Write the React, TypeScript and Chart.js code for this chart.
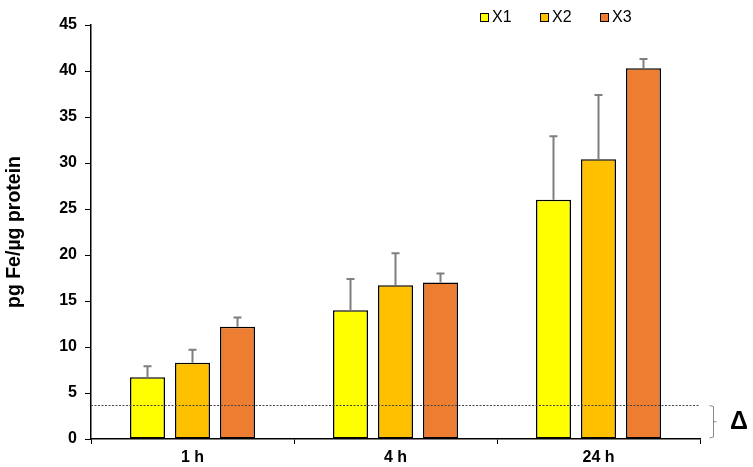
import React, { useEffect, useRef } from "react";
import { Chart, registerables } from "chart.js";

Chart.register(...registerables);

const categories = ["1 h", "4 h", "24 h"];
const seriesLabels = ["X1", "X2", "X3"];
const x1Values = [6.7, 14.0, 26.0];
const x2Values = [8.3, 16.7, 30.4];
const x3Values = [12.2, 17.0, 40.3];
const x1Errors = [1.2, 3.4, 6.9];
const x2Errors = [1.4, 3.5, 7.0];
const x3Errors = [1.0, 1.0, 1.0];
const thresholdValue = 3.75;
const yTicksMax = 45;
const yTicksStep = 5;
const yTitle = "pg Fe/µg protein";
const deltaLabel = "Δ";

const colors = ["#FFFF00", "#FFC000", "#ED7D31"];
const FONT = "'Liberation Sans', Arial, sans-serif";

const errorsBySeries = [x1Errors, x2Errors, x3Errors];

const errorBarPlugin = {
  id: "errorBars",
  afterDatasetsDraw(chart: any) {
    const ctx = chart.ctx;
    const yScale = chart.scales.y;
    ctx.save();
    ctx.strokeStyle = "#7f7f7f";
    ctx.lineWidth = 2;
    chart.data.datasets.forEach((ds: any, i: number) => {
      const meta = chart.getDatasetMeta(i);
      meta.data.forEach((bar: any, j: number) => {
        const v = ds.data[j];
        const e = errorsBySeries[i][j];
        const yTop = yScale.getPixelForValue(v + e);
        const yBar = yScale.getPixelForValue(v);
        ctx.beginPath();
        ctx.moveTo(bar.x, yBar);
        ctx.lineTo(bar.x, yTop);
        ctx.moveTo(bar.x - 4, yTop);
        ctx.lineTo(bar.x + 4, yTop);
        ctx.stroke();
      });
    });
    ctx.restore();
  },
};

const extrasPlugin = {
  id: "extras",
  afterDraw(chart: any) {
    const ctx = chart.ctx;
    const area = chart.chartArea;
    const yScale = chart.scales.y;
    const yT = yScale.getPixelForValue(thresholdValue);
    const y0 = yScale.getPixelForValue(0);
    ctx.save();
    // dashed threshold line
    ctx.strokeStyle = "#444";
    ctx.lineWidth = 1;
    ctx.setLineDash([2, 1.5]);
    ctx.beginPath();
    ctx.moveTo(area.left, Math.round(yT) + 0.5);
    ctx.lineTo(area.right, Math.round(yT) + 0.5);
    ctx.stroke();
    ctx.setLineDash([]);
    // bracket
    const bx = area.right + 13.5;
    ctx.strokeStyle = "#888";
    ctx.lineWidth = 1;
    ctx.beginPath();
    ctx.moveTo(bx - 4, yT + 1);
    ctx.lineTo(bx, yT + 2);
    ctx.lineTo(bx, y0 - 2);
    ctx.lineTo(bx - 4, y0 - 1);
    const ym = (yT + y0) / 2;
    ctx.moveTo(bx, ym);
    ctx.lineTo(bx + 3, ym);
    ctx.stroke();
    // delta
    ctx.fillStyle = "#000";
    ctx.font = `bold 25px ${FONT}`;
    ctx.textAlign = "center";
    ctx.textBaseline = "middle";
    ctx.fillText(deltaLabel, area.right + 39, ym);
    // legend
    ctx.font = `16px ${FONT}`;
    ctx.textAlign = "left";
    const legendY = 17;
    chart.data.datasets.forEach((ds: any, i: number) => {
      const lx = 480 + i * 60;
      ctx.fillStyle = ds.backgroundColor;
      ctx.fillRect(lx, legendY - 4, 9, 9);
      ctx.strokeStyle = "#000";
      ctx.lineWidth = 1;
      ctx.strokeRect(lx + 0.5, legendY - 3.5, 8, 8);
      ctx.fillStyle = "#000";
      ctx.fillText(ds.label, lx + 12, legendY + 1);
    });
    ctx.restore();
  },
};

export default function App() {
  const canvasRef = useRef<HTMLCanvasElement | null>(null);

  useEffect(() => {
    if (!canvasRef.current) return;
    const seriesValues = [x1Values, x2Values, x3Values];
    const chart = new Chart(canvasRef.current, {
      type: "bar",
      data: {
        labels: categories,
        datasets: seriesLabels.map((label, i) => ({
          label,
          data: seriesValues[i],
          backgroundColor: colors[i],
          borderColor: "#000",
          borderWidth: 1.5,
          borderSkipped: false,
          categoryPercentage: 0.665,
          barPercentage: 0.778,
        })),
      },
      options: {
        animation: false,
        responsive: true,
        maintainAspectRatio: false,
        layout: { padding: { top: 25, right: 53, left: 0, bottom: 0 } },
        plugins: {
          legend: { display: false },
          tooltip: { enabled: false },
        },
        scales: {
          x: {
            grid: {
              display: true,
              drawOnChartArea: false,
              offset: true,
              tickLength: 5,
              color: "#000",
              lineWidth: 1,
            },
            border: { color: "#000", width: 1.5 },
            ticks: {
              color: "#000",
              padding: 4,
              font: { family: FONT, size: 16, weight: "bold" },
            },
            afterFit(scale: any) {
              scale.height = 28;
            },
          },
          y: {
            min: 0,
            max: yTicksMax,
            grid: {
              display: true,
              drawOnChartArea: false,
              tickLength: 6,
              color: "#000",
              lineWidth: 1,
            },
            border: { color: "#000", width: 1.5 },
            ticks: {
              stepSize: yTicksStep,
              color: "#000",
              padding: 8,
              font: { family: FONT, size: 16, weight: "bold" },
            },
            title: {
              display: true,
              text: yTitle,
              color: "#000",
              padding: { top: 3, bottom: 0 },
              font: { family: FONT, size: 19.5, weight: "bold" },
            },
            afterFit(scale: any) {
              scale.width = 91;
            },
          },
        },
      },
      plugins: [errorBarPlugin, extrasPlugin],
    });
    return () => chart.destroy();
  }, []);

  return (
    <div style={{ position: "fixed", left: 0, top: 0, width: 753, height: 467, background: "#fff" }}>
      <canvas ref={canvasRef} />
    </div>
  );
}
